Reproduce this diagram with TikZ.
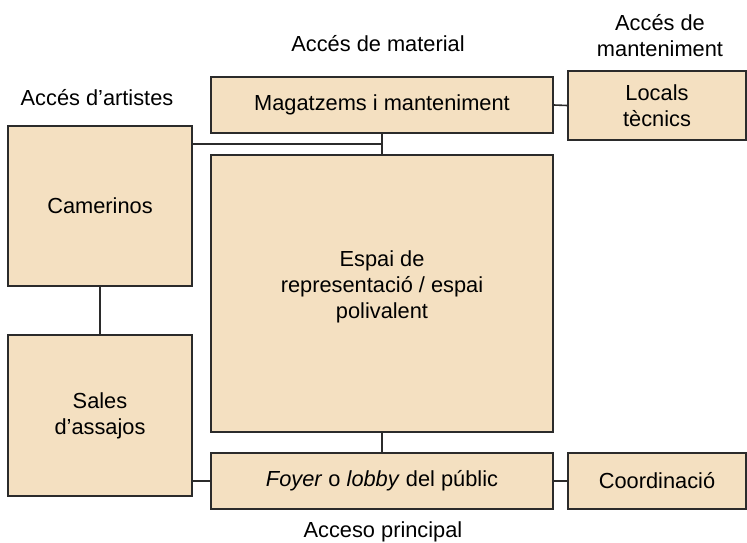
\documentclass[tikz,border=0pt]{standalone}
\usepackage{fontspec}
\setmainfont{Liberation Sans}
\definecolor{boxfill}{HTML}{F4E0C1}
\definecolor{boxline}{HTML}{2B2B2B}
\begin{document}
\begin{tikzpicture}[x=1pt,y=-1pt,
  every node/.style={font=\fontsize{21.8}{26}\selectfont, inner sep=0pt},
  box/.style={draw=boxline, line width=1.6pt, fill=boxfill, align=center},
  conn/.style={draw=boxline, line width=1.6pt},
  lbl/.style={align=center, text=black}]
\useasboundingbox (0,0) rectangle (747,543);
% boxes
\node[box, minimum width=342pt, minimum height=56pt] (mag) at (382,105) {Magatzems i manteniment};
\node[box, minimum width=178pt, minimum height=69pt] (loc) at (657,105.5) {Locals\\tècnics};
\node[box, minimum width=184pt, minimum height=160pt] (cam) at (100,206) {Camerinos};
\node[box, minimum width=342pt, minimum height=277pt] (esp) at (382,293.5) {};
\node[lbl] (esptxt) at (382,287) {Espai de\\representació / espai\\polivalent};
\node[box, minimum width=184pt, minimum height=161pt] (sal) at (100,415.5) {Sales\\d’assajos};
\node[box, minimum width=342pt, minimum height=56pt] (foy) at (382,481) {\textit{Foyer} o \textit{lobby} del públic};
\node[box, minimum width=178pt, minimum height=56pt] (coo) at (657,481) {Coordinació};
% labels
\node[lbl] (lmat) at (378,44) {Accés de material};
\node[lbl] (lman) at (660,36) {Accés de\\manteniment};
\node[lbl] (lart) at (97,98) {Accés d’artistes};
\node[lbl] (lpri) at (383,532) {Acceso principal};
% connectors
\coordinate (j) at (382,144);
\draw[conn] (mag.east) -- (loc.west);
\draw[conn] (mag.south) -- (esp.north);
\draw[conn] (cam.east |- j) -- (j);
\draw[conn] (cam.south) -- (sal.north);
\draw[conn] (esp.south) -- (foy.north);
\draw[conn] (sal.east |- foy.west) -- (foy.west);
\draw[conn] (foy.east) -- (coo.west);
\end{tikzpicture}
\end{document}
